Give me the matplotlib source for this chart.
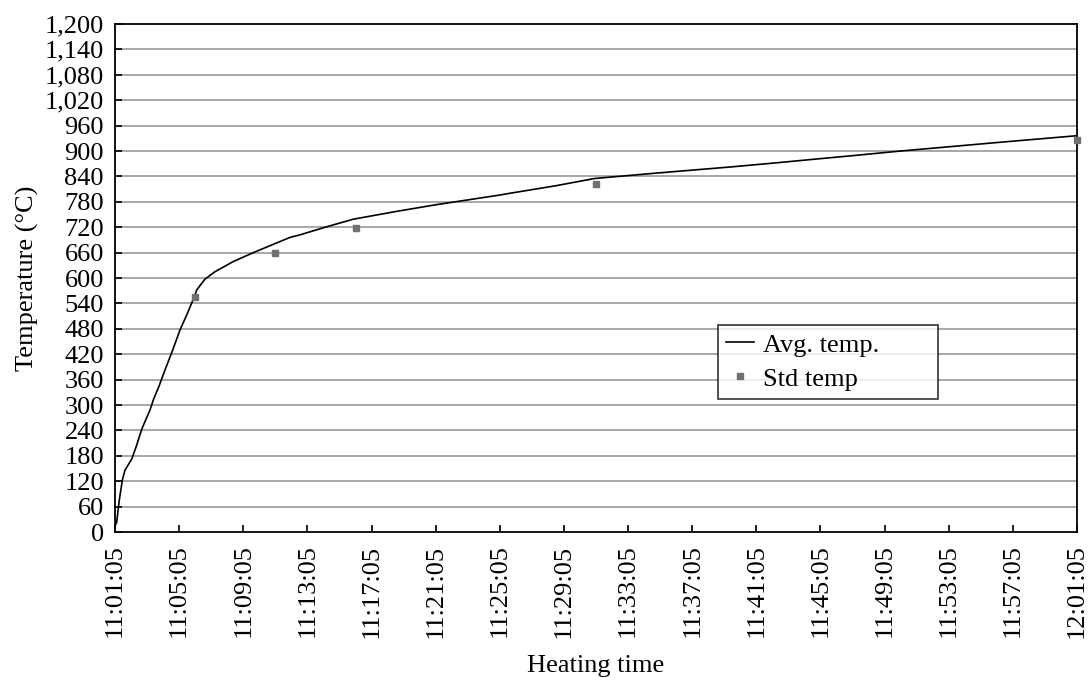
import matplotlib
matplotlib.use('Agg')
import matplotlib.pyplot as plt

# furnace average temperature, minutes after 11:01:05
avg_minutes = [0.0, 0.1, 0.27, 0.46, 0.62, 1.04, 1.35, 1.67, 1.95, 2.18, 2.39,
               2.75, 3.12, 3.6, 4.05, 4.5, 4.95, 5.10, 5.6, 6.24, 7.38, 8.63,
               10.09, 10.92, 11.54, 13.2, 14.87, 17.5, 20.0, 24.0, 24.6, 27.5,
               29.9, 33.5, 38.6, 41.5, 44.0, 46.0, 49.0, 50.2, 55.0, 59.95]
avg_temp = [15, 22, 76, 123, 146, 172, 205, 243, 268, 288, 312,
            345, 383, 430, 477, 515, 556, 572, 597, 615, 639, 660,
            683, 696, 702, 721, 739, 757, 773, 796, 800, 818,
            835, 847, 863, 873, 882, 889, 900, 904, 920, 936]

# standard fire curve points
std_minutes = [5, 10, 15, 30, 60]
std_temp = [556, 659, 717, 821, 925]

tick_minutes = list(range(0, 61, 4))
tick_labels = ['11:01:05', '11:05:05', '11:09:05', '11:13:05', '11:17:05',
               '11:21:05', '11:25:05', '11:29:05', '11:33:05', '11:37:05',
               '11:41:05', '11:45:05', '11:49:05', '11:53:05', '11:57:05',
               '12:01:05']
temp_ticks = list(range(0, 1201, 60))

plt.rcParams['font.family'] = ['Liberation Serif', 'DejaVu Serif']
plt.rcParams['font.size'] = 19

fig = plt.figure(figsize=(10.88, 6.82), dpi=100)
ax = fig.add_axes([0.1057, 0.2199, 0.8842, 0.7449])

for t in temp_ticks[1:-1]:
    ax.axhline(t, color='#a0a0a0', linewidth=1.3, zorder=0)

ax.plot(avg_minutes, avg_temp, color='black', linewidth=1.2, label='Avg. temp.', zorder=3)
ax.plot(std_minutes, std_temp, linestyle='none', marker='s', markersize=4.5,
        color='#707070', label='Std temp', zorder=4, clip_on=False)

ax.set_xlim(0, 60)
ax.set_ylim(0, 1200)
ax.set_xticks(tick_minutes)
ax.set_xticklabels(tick_labels, rotation=90)
ax.set_yticks(temp_ticks)
ax.set_yticklabels([f'{t:,}' for t in temp_ticks])
ax.tick_params(axis='both', direction='in', length=5, width=1.2, color='black')
ax.tick_params(axis='y', pad=8)
ax.tick_params(axis='x', pad=9)
for spine in ax.spines.values():
    spine.set_color('black')
    spine.set_linewidth(1.3)

ax.set_ylabel('Temperature (°C)', labelpad=4)
ax.set_xlabel('Heating time', labelpad=12)

leg = ax.legend(loc='upper left', bbox_to_anchor=(0.627, 0.407, 0.228, 0.0),
                mode='expand', frameon=True, fancybox=False, borderaxespad=0,
                handlelength=1.05, handletextpad=0.35, labelspacing=0.4,
                borderpad=0.3)
leg.get_frame().set_edgecolor('black')
leg.get_frame().set_linewidth(1.2)

fig.savefig('out.png', dpi=100)
